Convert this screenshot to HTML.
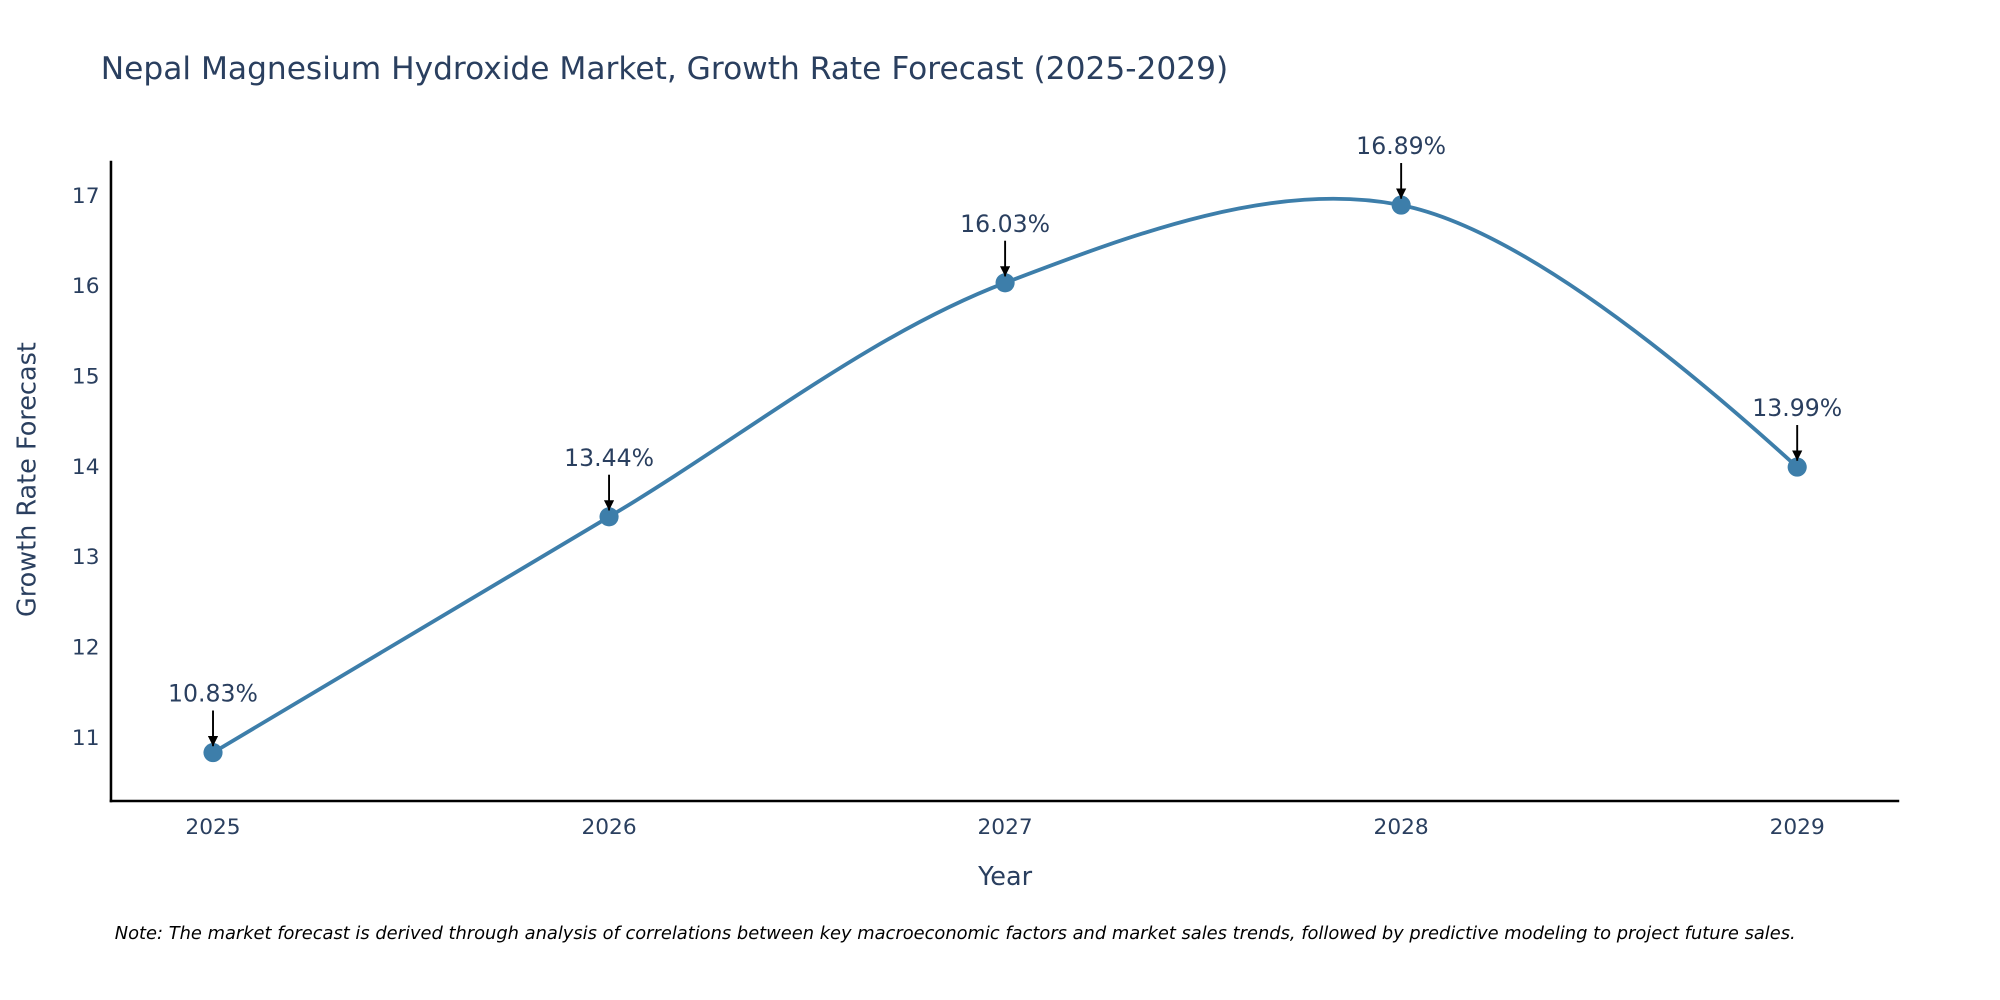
<!DOCTYPE html>
<html><head><meta charset="utf-8"><style>
html,body{margin:0;padding:0;background:#fff;}
svg{display:block;font-family:"DejaVu Sans","Liberation Sans",sans-serif;}
</style></head><body>
<svg id="chart" width="2000" height="1000" viewBox="0 0 1568 784" xmlns="http://www.w3.org/2000/svg">
<defs><marker id="ah" viewBox="0 0 10 10" refX="10" refY="5" markerWidth="8" markerHeight="8" markerUnits="userSpaceOnUse" orient="auto"><path d="M0,0 L10,5 L0,10 z" fill="#000"/></marker></defs>
<text x="79" y="62" font-size="24.5" fill="#2a3f5f">Nepal Magnesium Hydroxide Market, Growth Rate Forecast (2025-2029)</text>
<g id="yticks"></g><g id="xticks"></g>
<line x1="87" y1="126" x2="87" y2="629" stroke="#000" stroke-width="2"/>
<line x1="86" y1="628" x2="1489" y2="628" stroke="#000" stroke-width="2"/>
<text transform="translate(28,376) rotate(-90)" text-anchor="middle" font-size="20" fill="#2a3f5f">Growth Rate Forecast</text>
<text x="788" y="694" text-anchor="middle" font-size="20" fill="#2a3f5f">Year</text>
<g id="series"></g>
<text x="90" y="736" font-size="14" font-style="italic" fill="#000">Note: The market forecast is derived through analysis of correlations between key macroeconomic factors and market sales trends, followed by predictive modeling to project future sales.</text>
</svg>
<script>
const years = [2025, 2026, 2027, 2028, 2029];
const values = [10.83, 13.44, 16.03, 16.89, 13.99];
const yTicks = [11, 12, 13, 14, 15, 16, 17];
const NS = "http://www.w3.org/2000/svg";
function xS(v){ return 167 + (v - 2025) * 310.5; }
function yS(v){ return 578 - (v - 11) * 70.83; }
function mk(tag, attrs, parent){ const e = document.createElementNS(NS, tag); for (const k in attrs) e.setAttribute(k, attrs[k]); parent.appendChild(e); return e; }
const yt = document.getElementById('yticks');
yTicks.forEach(t => {
  const e = mk('text', {x: 78, y: yS(t) + 6, 'text-anchor': 'end', 'font-size': 17, fill: '#2a3f5f'}, yt);
  
  
  e.textContent = t;
});
const xt = document.getElementById('xticks');
years.forEach(t => {
  const e = mk('text', {x: xS(t), y: 654, 'text-anchor': 'middle', 'font-size': 17, fill: '#2a3f5f'}, xt);
  
  
  e.textContent = t;
});
const pts = years.map((y, i) => [xS(y), yS(values[i])]);
function tangent(p0, p1, p2){
  const dx1 = p0[0]-p1[0], dy1 = p0[1]-p1[1], dx2 = p2[0]-p1[0], dy2 = p2[1]-p1[1];
  const d1 = Math.hypot(dx1, dy1), d2 = Math.hypot(dx2, dy2);
  const d1a = Math.sqrt(d1), d2a = Math.sqrt(d2);
  const nx = d2*dx1 - d1*dx2, ny = d2*dy1 - d1*dy2;
  const den1 = 3*d2a*(d1a+d2a), den2 = 3*d1a*(d1a+d2a);
  return [[p1[0]+nx/den1, p1[1]+ny/den1], [p1[0]-nx/den2, p1[1]-ny/den2]];
}
const tg = [];
for (let i = 1; i < pts.length-1; i++) tg[i] = tangent(pts[i-1], pts[i], pts[i+1]);
let d = 'M' + pts[0][0] + ',' + pts[0][1];
for (let i = 0; i < pts.length-1; i++) {
  const c1 = i === 0 ? pts[0] : tg[i][1];
  const c2 = i+1 === pts.length-1 ? pts[i+1] : tg[i+1][0];
  if (i === 0) d += ' Q' + c2[0] + ',' + c2[1] + ' ' + pts[1][0] + ',' + pts[1][1];
  else if (i+1 === pts.length-1) d += ' Q' + c1[0] + ',' + c1[1] + ' ' + pts[i+1][0] + ',' + pts[i+1][1];
  else d += ' C' + c1[0] + ',' + c1[1] + ' ' + c2[0] + ',' + c2[1] + ' ' + pts[i+1][0] + ',' + pts[i+1][1];
}
const sg = document.getElementById('series');
const line = mk('path', {d: d, fill: 'none', stroke: '#3d7eaa', 'stroke-width': 3}, sg);


pts.forEach((p, i) => {
  const c = mk('circle', {cx: p[0], cy: p[1], r: 7.5, fill: '#3d7eaa'}, sg);
  
  
  const a = mk('line', {x1: p[0], y1: p[1]-33, x2: p[0], y2: p[1]-5, stroke: '#000', 'stroke-width': 1.5, 'marker-end': 'url(#ah)'}, sg);
  
  
  const t = mk('text', {x: p[0], y: p[1]-40, 'text-anchor': 'middle', 'font-size': 18.5, fill: '#2a3f5f'}, sg);
  
  
  t.textContent = values[i].toFixed(2) + '%';
});
</script>
</body></html>
